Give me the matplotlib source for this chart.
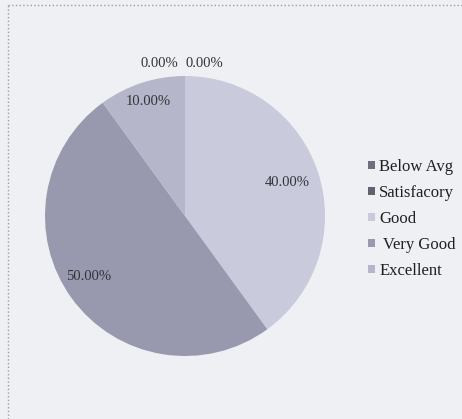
import matplotlib.pyplot as plt
from matplotlib.lines import Line2D
from matplotlib.patches import Patch

# Ratings share
categories = ['Below Avg', 'Satisfacory', 'Good', ' Very Good', 'Excellent']
shares = [0.0, 0.0, 40.0, 50.0, 10.0]
colors = ['#6e6e7c', '#62626f', '#c9cadc', '#9899ae', '#b5b6c9']

# where each percentage label sits (axes data units, pie radius = 1)
label_pos = [(-0.18, 1.086), (0.135, 1.086), (0.73, 0.236), (-0.686, -0.43), (-0.264, 0.82)]

plt.rcParams['font.family'] = ['Liberation Serif', 'DejaVu Serif']

fig = plt.figure(figsize=(4.62, 4.19), dpi=100, facecolor='#eef0f3')
ax = fig.add_axes([45 / 462, 63 / 419, 280 / 462, 280 / 419])
ax.set_facecolor('#eef0f3')

wedges, texts, autotexts = ax.pie(shares, colors=colors, startangle=90,
                                  counterclock=False, autopct='%.2f%%',
                                  pctdistance=0.78,
                                  wedgeprops={'edgecolor': 'none'},
                                  textprops={'fontsize': 10.5, 'color': '#333338'})
for t, (x, y) in zip(autotexts, label_pos):
    t.set_position((x, y))
    t.set_clip_on(False)
ax.set_xlim(-1, 1)
ax.set_ylim(-1, 1)
ax.set_aspect('equal')

handles = [Patch(facecolor=c, edgecolor='none') for c in colors]
fig.legend(handles, categories, loc='center left',
           bbox_to_anchor=(353 / 462, 1 - 219 / 419), frameon=False,
           fontsize=12, handlelength=0.42, handleheight=0.42,
           handletextpad=0.25, labelspacing=0.6, labelcolor='#202022')

# dotted frame along the top and left edges
fig.add_artist(Line2D([8 / 462, 1.0], [1 - 5 / 419, 1 - 5 / 419],
                      transform=fig.transFigure, color='#9a9cad',
                      linestyle=':', linewidth=1.0))
fig.add_artist(Line2D([8 / 462, 8 / 462], [0.0, 1 - 5 / 419],
                      transform=fig.transFigure, color='#9a9cad',
                      linestyle=':', linewidth=1.0))

fig.savefig('out.png', dpi=100, facecolor=fig.get_facecolor())
